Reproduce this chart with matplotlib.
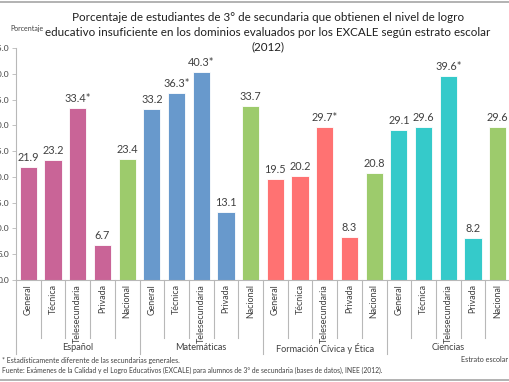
import matplotlib
matplotlib.use("Agg")
import matplotlib.pyplot as plt
from matplotlib.lines import Line2D
from matplotlib.transforms import blended_transform_factory

plt.rcParams['font.family'] = ['Lato', 'DejaVu Sans']

subjects = ["Español", "Matemáticas", "Formación Cívica y Ética", "Ciencias"]
strata = ["General", "Técnica", "Telesecundaria", "Privada", "Nacional"]
espanol = [21.9, 23.2, 33.4, 6.7, 23.4]
matematicas = [33.2, 36.3, 40.3, 13.1, 33.7]
formacion = [19.5, 20.2, 29.7, 8.3, 20.8]
ciencias = [29.1, 29.6, 39.6, 8.2, 29.6]
# marked with * (significantly different from general schools)
espanol_sig = [False, False, True, False, False]
matematicas_sig = [False, True, True, False, False]
formacion_sig = [False, False, True, False, False]
ciencias_sig = [False, False, True, False, False]

subject_colors = ["#C96497", "#6899CC", "#FF7272", "#35CACA"]
nacional_color = "#9DCB6C"
text_color = "#404040"
grid_gray = "#B8B8B8"

values = espanol + matematicas + formacion + ciencias
sig = espanol_sig + matematicas_sig + formacion_sig + ciencias_sig

colors = []
for c in subject_colors:
    colors += [c] * 4 + [nacional_color]

fig = plt.figure(figsize=(5.1, 3.82), dpi=100)
ax = fig.add_axes([16 / 510, 1 - 280 / 382, 494 / 510, 232 / 382])

x = list(range(len(values)))
bars = ax.bar(x, values, width=0.7, color=colors, edgecolor="white", linewidth=0.6)

for b, v, s in zip(bars, values, sig):
    lab = f"{v:.1f}" + ("*" if s else "")
    ax.text(b.get_x() + b.get_width() / 2, v + 0.8, lab, ha="center", va="bottom",
            fontsize=7.8, color=text_color)

ax.set_xlim(-0.5, len(values) - 0.5)
ax.set_ylim(0, 45)
ax.set_yticks(range(0, 46, 5))
ax.set_yticklabels([f"{t:.1f}" for t in range(0, 46, 5)], fontsize=6, color=text_color)
ax.set_xticks([])
ax.tick_params(axis="y", length=3, width=0.6, color=grid_gray, pad=2)
for side in ["top", "right"]:
    ax.spines[side].set_visible(False)
ax.spines["left"].set_color(grid_gray)
ax.spines["bottom"].set_color(grid_gray)
ax.spines["left"].set_linewidth(0.8)
ax.spines["bottom"].set_linewidth(0.8)

# multi-level category axis
tr = blended_transform_factory(ax.transData, fig.transFigure)
y_base = 1 - 280 / 382
y_inner = 1 - 338 / 382
y_group = 1 - 354 / 382
for i in range(len(values)):
    bottom = y_group if i % 5 == 0 else y_inner
    fig.add_artist(Line2D([i - 0.5, i - 0.5], [y_base, bottom], transform=tr,
                          color=grid_gray, linewidth=0.8))
    fig.text(i, 1 - 284 / 382, strata[i % 5], transform=tr, rotation=90,
             ha="center", va="top", fontsize=6.4, color=text_color)
for g, name in enumerate(subjects):
    fig.text(g * 5 + 2, 1 - 348 / 382, name, transform=tr, ha="center",
             va="center", fontsize=6.6, color=text_color)

fig.text(268 / 510, 1 - 32 / 382,
         "Porcentaje de estudiantes de 3° de secundaria que obtienen el nivel de logro\n"
         "educativo insuficiente en los dominios evaluados por los EXCALE según estrato escolar\n"
         "(2012)", ha="center", va="center", fontsize=8.4, color="#202020",
         linespacing=1.4)
fig.text(10 / 510, 1 - 28 / 382, "Porcentaje", ha="left", va="center",
         fontsize=5, color=text_color)
fig.text(508 / 510, 1 - 359 / 382, "Estrato escolar", ha="right", va="center",
         fontsize=5.2, color=text_color)
fig.text(2 / 510, 1 - 360 / 382,
         "* Estadísticamente diferente de las secundarias generales.",
         ha="left", va="center", fontsize=5.0, color=text_color)
fig.text(2 / 510, 1 - 370 / 382,
         "Fuente: Exámenes de la Calidad y el Logro Educativos (EXCALE) para alumnos de 3° de "
         "secundaria (bases de datos), INEE (2012).",
         ha="left", va="center", fontsize=4.9, color=text_color)

fig.add_artist(Line2D([0, 1], [1 - 2 / 382, 1 - 2 / 382], transform=fig.transFigure,
                      color="#A6A6A6", linewidth=1.2))
fig.add_artist(Line2D([0, 1], [1 - 380 / 382, 1 - 380 / 382], transform=fig.transFigure,
                      color="#A6A6A6", linewidth=1.2))

fig.savefig("out.png", dpi=100)
